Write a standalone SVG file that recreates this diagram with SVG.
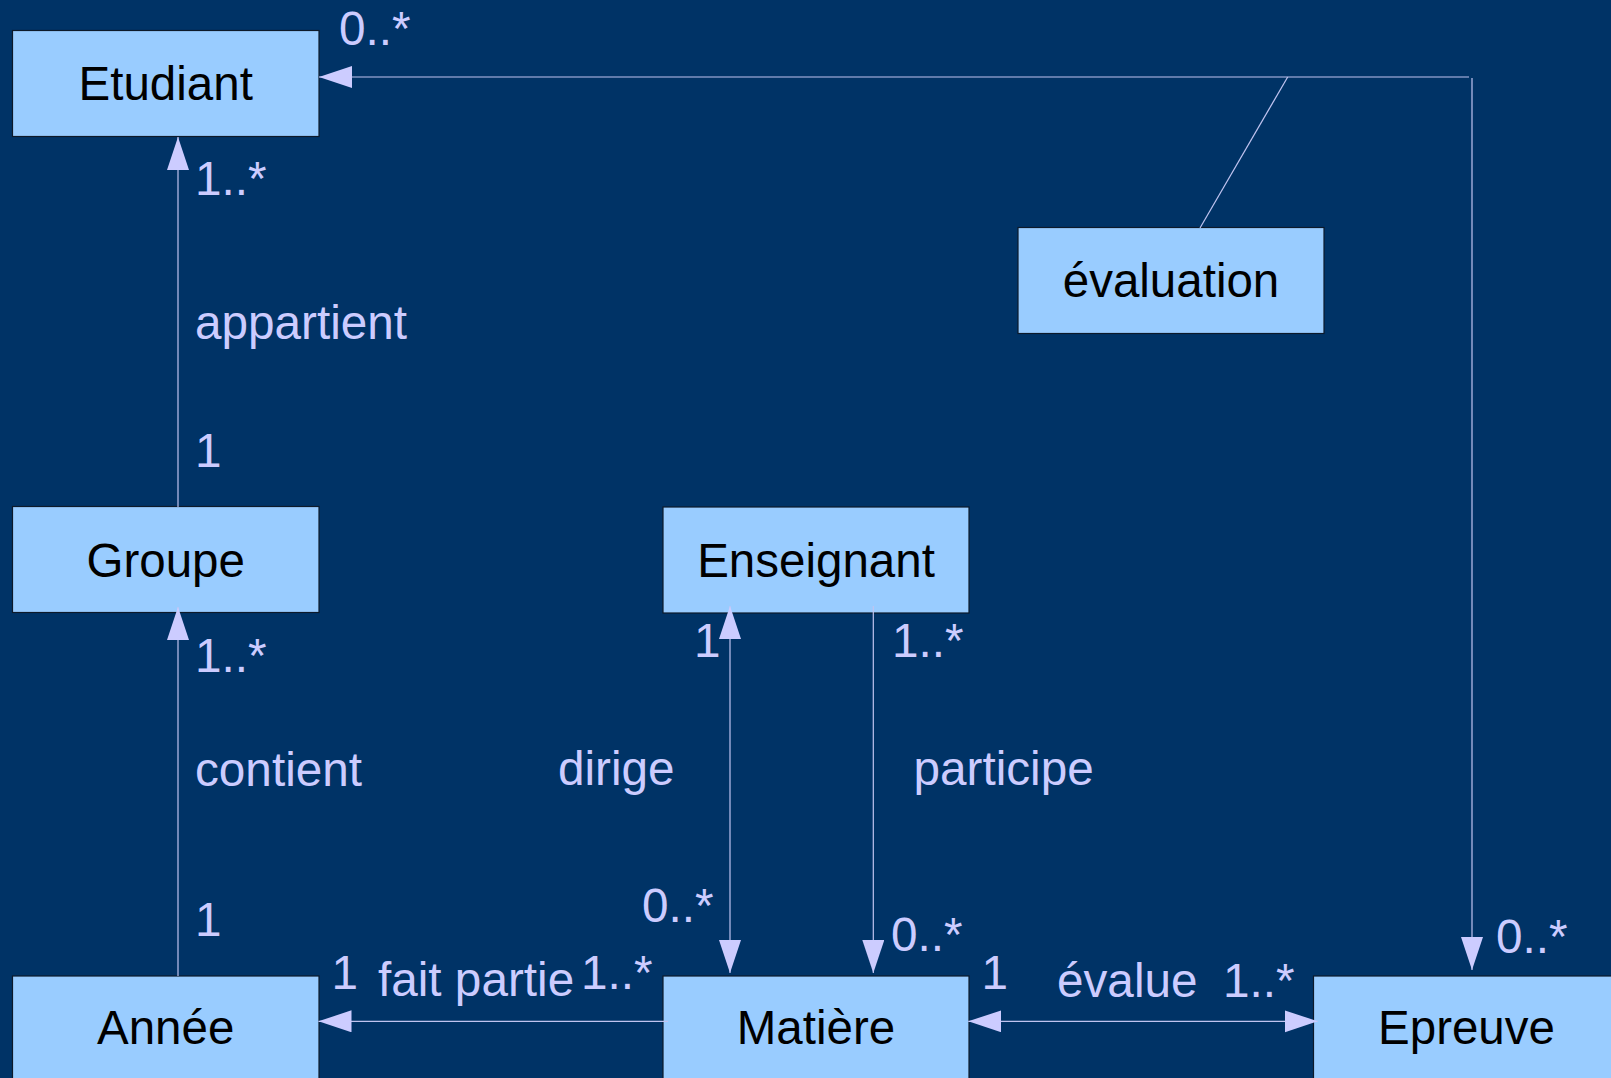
<svg xmlns="http://www.w3.org/2000/svg" width="1611" height="1078" viewBox="0 0 1611 1078">
<style>
.box{fill:#99ccff;stroke:#0d1a2a;stroke-width:1.2}
.name{font-family:"Liberation Sans",Arial,sans-serif;font-size:47.5px;fill:#000;text-anchor:middle}
.lbl{font-family:"Liberation Sans",Arial,sans-serif;font-size:47.7px;fill:#ccccff}
.con{fill:none;stroke:#c0c4f0;stroke-width:1.2}
</style>
<defs>
<marker id="arr" markerUnits="userSpaceOnUse" markerWidth="34" markerHeight="24" refX="33" refY="11" orient="auto-start-reverse" viewBox="0 0 34 24">
<path d="M0,0 L33,11 L0,22 Z" fill="#ccccff"/>
</marker>
</defs>
<rect width="1611" height="1078" fill="#003366"/>
<g id="nodes">
<g id="etudiant"><rect class="box" x="12.5" y="30.5" width="306.5" height="106"/><text class="name" x="165.7" y="100">Etudiant</text></g>
<g id="evaluation"><rect class="box" x="1018" y="227.5" width="306" height="106"/><text class="name" x="1171" y="297">évaluation</text></g>
<g id="groupe"><rect class="box" x="12.5" y="506.5" width="306.5" height="106"/><text class="name" x="165.7" y="577">Groupe</text></g>
<g id="enseignant"><rect class="box" x="663" y="507" width="306" height="106"/><text class="name" x="816" y="577">Enseignant</text></g>
<g id="annee"><rect class="box" x="12.5" y="976" width="306.5" height="106"/><text class="name" x="165.7" y="1044">Année</text></g>
<g id="matiere"><rect class="box" x="663" y="976" width="306" height="106"/><text class="name" x="816" y="1044">Matière</text></g>
<g id="epreuve"><rect class="box" x="1313.5" y="976" width="306" height="106"/><text class="name" x="1466.5" y="1044">Epreuve</text></g>
</g>
<g id="connectors">
<line class="con" x1="178" y1="507" x2="178" y2="137" marker-end="url(#arr)"/>
<line class="con" x1="178" y1="976" x2="178" y2="607" marker-end="url(#arr)"/>
<line class="con" x1="730" y1="606" x2="730" y2="973" marker-start="url(#arr)" marker-end="url(#arr)"/>
<line class="con" x1="873.3" y1="606" x2="873.3" y2="973" marker-end="url(#arr)"/>
<line class="con" x1="668" y1="1021.3" x2="318.5" y2="1021.3" marker-end="url(#arr)"/>
<line class="con" x1="968.3" y1="1021.3" x2="1317.7" y2="1021.3" marker-start="url(#arr)" marker-end="url(#arr)"/>
<path class="con" d="M1472,970 V78 M1469,77 H319" marker-start="url(#arr)" marker-end="url(#arr)"/>
<line class="con" x1="1287.7" y1="77" x2="1200" y2="228"/>
</g>
<g id="labels">
<text class="lbl" x="339" y="45">0..*</text>
<text class="lbl" x="195" y="195">1..*</text>
<text class="lbl" x="195" y="339">appartient</text>
<text class="lbl" x="195" y="467">1</text>
<text class="lbl" x="195" y="672">1..*</text>
<text class="lbl" x="195" y="786">contient</text>
<text class="lbl" x="195" y="936">1</text>
<text class="lbl" x="694" y="657">1</text>
<text class="lbl" x="892" y="657">1..*</text>
<text class="lbl" x="558" y="785">dirige</text>
<text class="lbl" x="913.5" y="785">participe</text>
<text class="lbl" x="642" y="922">0..*</text>
<text class="lbl" x="891" y="951">0..*</text>
<text class="lbl" x="331.5" y="989">1</text>
<text class="lbl" x="378" y="996">fait partie</text>
<text class="lbl" x="581" y="989">1..*</text>
<text class="lbl" x="981.5" y="989">1</text>
<text class="lbl" x="1057" y="997">évalue</text>
<text class="lbl" x="1223" y="997">1..*</text>
<text class="lbl" x="1496" y="953">0..*</text>
</g>
</svg>
